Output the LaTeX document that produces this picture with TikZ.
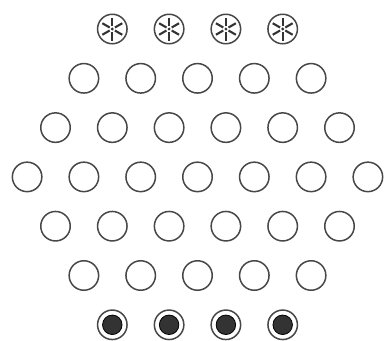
\documentclass[tikz,border=0pt]{standalone}
\begin{document}
\begin{tikzpicture}[x=1pt,y=-1pt,
  hole/.style={circle,draw=black!72,line width=1.5pt,minimum size=29.5pt,inner sep=0pt},
  spoke/.style={draw=black!80,line width=2.1pt},
  peg/.style={circle,fill=black!80,draw=black,line width=0.8pt,minimum size=19.5pt,inner sep=0pt}]
\useasboundingbox (0,0) rectangle (384,341);
% top row: wheels
\foreach \k in {1,...,4} {
  \node[hole] (s\k) at ({197.5+(\k-2.5)*56.8},29) {};
  \foreach \a in {90,150,...,450}
    \draw[spoke] (s\k.center) ++(\a:3) -- ++(\a:8.5);
  \fill[black!80] (s\k.center) circle (1.6);
}
% middle rows: empty holes
\foreach \r/\n in {1/5,2/6,3/7,4/6,5/5} {
  \foreach \k in {1,...,\n} {
    \node[hole] (h\r-\k) at ({197.5+(\k-(\n+1)/2)*56.8},{29+\r*49.3}) {};
  }
}
% bottom row: filled pegs
\foreach \k in {1,...,4} {
  \node[hole] (b\k) at ({197.5+(\k-2.5)*56.8},324.8) {};
  \node[peg] (p\k) at (b\k.center) {};
}
\end{tikzpicture}
\end{document}
